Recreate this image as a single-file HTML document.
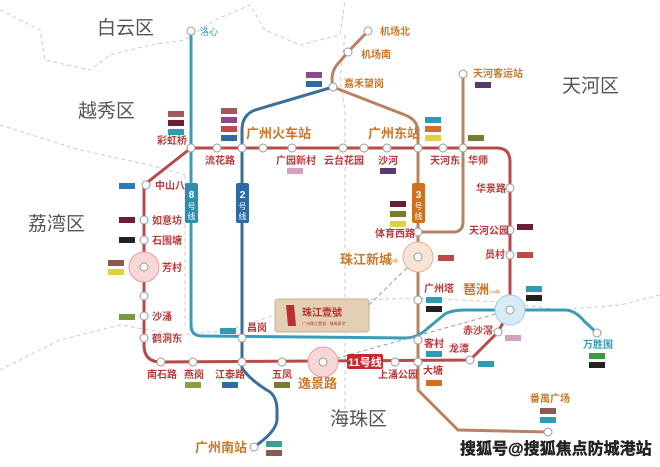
<!DOCTYPE html>
<html><head><meta charset="utf-8"><style>
html,body{margin:0;padding:0;background:#fff;}
svg{display:block;}
text{font-family:"Liberation Sans","Noto Sans CJK SC",sans-serif;}
.r{fill:#b83a3c;font-size:10px;font-weight:bold;}
.o{fill:#c8782a;font-size:10px;font-weight:bold;}
.O{fill:#c8782a;font-size:13px;font-weight:bold;}
.d{fill:#555;font-size:19px;}
</style></head><body>
<svg width="660" height="467" viewBox="0 0 660 467" xmlns="http://www.w3.org/2000/svg">
<g fill="none" stroke="#ccc" stroke-width="1" stroke-dasharray="4,3">
<path d="M0,10 L40,30 L45,60 L90,70 L110,55 L150,45 L185,40 L215,20 L250,5 L265,30 L300,45 L340,35 L345,0"/>
<path d="M345,35 L340,80 L345,110 L345,420"/>
<path d="M0,125 L80,150 L150,165 L185,175"/>
<path d="M0,370 L60,340 L120,325 L180,335 L230,330 L290,310 L360,300 L420,298 L500,302 L560,310 L620,305 L660,295"/>
<path d="M185,175 L185,330"/>
</g>
<text class="d" x="97" y="34">白云区</text>
<text class="d" x="78" y="117">越秀区</text>
<text class="d" x="28" y="230">荔湾区</text>
<text class="d" x="562" y="92">天河区</text>
<text class="d" x="330" y="425">海珠区</text>
<g fill="none" stroke="#b98260" stroke-width="3">
<path d="M368,31 L348,52 L336,66 Q330,75 333,87 L405,115 Q418,120 418,132 L418,390 L458,430 L548,432"/>
<path d="M463,74 L463,222 Q463,232 453,232 L418,232"/>
</g>
<g fill="none" stroke="#3a6f9a" stroke-width="3">
<path d="M333,87 L255,110 Q242,115 242,130 L242,368 Q250,380 270,392 Q277,398 277,410 L277,420 Q276,432 254,447"/>
</g>
<g fill="none" stroke="#3a9db8" stroke-width="3">
<path d="M191,31 L191,325 Q191,336 202,336 L405,338 Q418,338 428,328 L445,314 Q452,310 465,310 L565,310 Q575,310 585,322 L597,333"/>
</g>
<g fill="none" stroke="#b84a4a" stroke-width="3">
<path d="M191,148 L497,148 Q510,148 510,162 L510,310 L498,332 L470,360 L161,362 Q144,362 144,345 L144,185 L191,148"/>
</g>
<g fill="none" stroke="#999" stroke-width="1" stroke-dasharray="4,3">
<path d="M369,305 L418,257"/><path d="M323,362 L510,310"/>
</g>
<g stroke-width="1">
<circle cx="144" cy="267" r="15" fill="#f6d6d6" stroke="#e4a0a0"/>
<circle cx="323" cy="362" r="15" fill="#f6d6d6" stroke="#e4a0a0"/>
<circle cx="418" cy="257" r="15" fill="#f8e4d6" stroke="#e8b090"/>
<circle cx="510" cy="310" r="15" fill="#d8ecf6" stroke="#a0cce4"/>
</g>
<g fill="#fff" stroke="#999" stroke-width="1">
<circle cx="191" cy="31" r="4"/><circle cx="368" cy="31" r="4"/><circle cx="348" cy="52" r="4"/><circle cx="333" cy="87" r="4"/><circle cx="463" cy="74" r="4"/>
<circle cx="191" cy="148" r="4"/><circle cx="217" cy="148" r="4"/><circle cx="242" cy="148" r="4"/><circle cx="263" cy="148" r="4"/><circle cx="292" cy="148" r="4"/><circle cx="343" cy="148" r="4"/><circle cx="364" cy="148" r="4"/><circle cx="387" cy="148" r="4"/><circle cx="418" cy="148" r="4"/><circle cx="443" cy="148" r="4"/><circle cx="463" cy="148" r="4"/>
<circle cx="510" cy="188" r="4"/><circle cx="510" cy="230" r="4"/><circle cx="510" cy="255" r="4"/><circle cx="510" cy="310" r="4"/><circle cx="498" cy="332" r="4"/><circle cx="470" cy="360" r="4"/>
<circle cx="418" cy="232" r="4"/><circle cx="418" cy="257" r="4"/><circle cx="418" cy="300" r="4"/><circle cx="418" cy="340" r="4"/><circle cx="418" cy="362" r="4"/><circle cx="548" cy="432" r="4"/><circle cx="597" cy="333" r="4"/>
<circle cx="395" cy="362" r="4"/><circle cx="323" cy="362" r="4"/><circle cx="282" cy="362" r="4"/><circle cx="242" cy="362" r="4"/><circle cx="193" cy="362" r="4"/><circle cx="161" cy="362" r="4"/><circle cx="242" cy="338" r="4"/><circle cx="254" cy="447" r="4"/>
<circle cx="146" cy="185" r="4"/><circle cx="144" cy="220" r="4"/><circle cx="144" cy="240" r="4"/><circle cx="144" cy="267" r="4"/><circle cx="144" cy="296" r="4"/><circle cx="144" cy="316" r="4"/><circle cx="144" cy="338" r="4"/>
</g>
<rect x="185" y="183" width="13" height="40" rx="2" fill="#2c8fb0"/><text x="191.5" y="198" fill="#fff" font-size="10" text-anchor="middle" font-weight="bold">8</text><text x="191.5" y="209" fill="#fff" font-size="8" text-anchor="middle">号</text><text x="191.5" y="219" fill="#fff" font-size="8" text-anchor="middle">线</text>
<rect x="236" y="183" width="13" height="40" rx="2" fill="#2e6aa6"/><text x="242.5" y="198" fill="#fff" font-size="10" text-anchor="middle" font-weight="bold">2</text><text x="242.5" y="209" fill="#fff" font-size="8" text-anchor="middle">号</text><text x="242.5" y="219" fill="#fff" font-size="8" text-anchor="middle">线</text>
<rect x="412" y="183" width="13" height="40" rx="2" fill="#d07020"/><text x="418.5" y="198" fill="#fff" font-size="10" text-anchor="middle" font-weight="bold">3</text><text x="418.5" y="209" fill="#fff" font-size="8" text-anchor="middle">号</text><text x="418.5" y="219" fill="#fff" font-size="8" text-anchor="middle">线</text>
<rect x="347" y="354" width="36" height="15" rx="2" fill="#c8282c"/><text x="365" y="366" fill="#fff" font-size="11" text-anchor="middle" font-weight="bold">11号线</text>
<rect x="275" y="299" width="94" height="33" rx="3" fill="#e2cfb4" stroke="#c8b090"/>
<path d="M286,305 L294,305 L296,326 L288,326 Z" fill="#b83030"/>
<text x="302" y="316" fill="#b83030" font-size="10" font-weight="bold">珠江壹號</text>
<text x="302" y="325" fill="#b84040" font-size="4">广州珠江壹號 · 臻稀豪宅</text>
<text x="200" y="35" fill="#2c9bb3" font-size="9">洛心</text>
<text class="o" x="380" y="35" font-size="9">机场北</text>
<text class="o" x="361" y="58" font-size="9">机场南</text>
<text class="o" x="344" y="87" font-size="9">嘉禾望岗</text>
<text class="o" x="473" y="77" font-size="9">天河客运站</text>
<text class="O" x="246" y="138">广州火车站</text>
<text class="O" x="368" y="138">广州东站</text>
<text class="r" x="157" y="144">彩虹桥</text>
<text class="r" x="205" y="164">流花路</text>
<text class="r" x="276" y="164">广园新村</text>
<text class="r" x="324" y="164">云台花园</text>
<text class="r" x="378" y="164">沙河</text>
<text class="r" x="430" y="164">天河东</text>
<text class="r" x="468" y="164">华师</text>
<text class="r" x="476" y="192">华景路</text>
<text class="r" x="469" y="234">天河公园</text>
<text class="r" x="485" y="258">员村</text>
<text class="r" x="155" y="189">中山八</text>
<text class="r" x="152" y="224">如意坊</text>
<text class="r" x="152" y="244">石围塘</text>
<text class="r" x="162" y="271">芳村</text>
<text class="r" x="152" y="320">沙涌</text>
<text class="r" x="152" y="342">鹤洞东</text>
<text class="r" x="147" y="378">南石路</text>
<text class="r" x="184" y="378">燕岗</text>
<text class="r" x="215" y="378">江泰路</text>
<text class="r" x="272" y="378">五凤</text>
<text class="r" x="247" y="331">昌岗</text>
<text class="O" x="298" y="388">逸景路</text>
<text class="r" x="378" y="378">上涌公园</text>
<text class="r" x="423" y="374">大塘</text>
<text class="r" x="449" y="352">龙潭</text>
<text class="r" x="463" y="334">赤沙滘</text>
<text class="r" x="424" y="347">客村</text>
<text class="r" x="424" y="292">广州塔</text>
<text class="r" x="375" y="237">体育西路</text>
<text class="O" x="340" y="264">珠江新城</text><text x="387" y="262" fill="#c8782a" font-size="4">(5A级)</text>
<text class="O" x="463" y="294">琶洲</text><text x="489" y="293" fill="#c8782a" font-size="4">(5A级)</text>
<text x="583" y="348" fill="#2c9bb3" font-size="10" font-weight="bold">万胜围</text>
<text class="o" x="530" y="402" font-size="9">番禺广场</text>
<text class="O" x="195" y="452">广州南站</text>
<g>
<rect x="168" y="111" width="16" height="6" fill="#a0585e"/><rect x="168" y="120" width="16" height="6" fill="#6a2030"/><rect x="168" y="129" width="16" height="6" fill="#2c9bb3"/>
<rect x="221" y="108" width="16" height="6" fill="#a0585e"/><rect x="221" y="117" width="16" height="6" fill="#8a4a90"/><rect x="221" y="126" width="16" height="6" fill="#c04848"/><rect x="221" y="135" width="16" height="6" fill="#2e6aa6"/>
<rect x="306" y="72" width="16" height="6" fill="#8a4a90"/><rect x="306" y="81" width="16" height="6" fill="#2e6aa6"/>
<rect x="287" y="168" width="16" height="6" fill="#d8a0c0"/>
<rect x="380" y="168" width="16" height="6" fill="#5a3a6a"/>
<rect x="425" y="117" width="16" height="6" fill="#2c9bb3"/><rect x="425" y="126" width="16" height="6" fill="#d07020"/><rect x="425" y="135" width="16" height="6" fill="#e0d040"/>
<rect x="475" y="82" width="16" height="6" fill="#5a3a6a"/><rect x="468" y="135" width="16" height="6" fill="#7a7a30"/>
<rect x="390" y="201" width="16" height="6" fill="#6a2030"/><rect x="390" y="211" width="16" height="6" fill="#7a7a30"/><rect x="390" y="221" width="16" height="6" fill="#e0d040"/>
<rect x="517" y="224" width="16" height="6" fill="#6a2030"/><rect x="517" y="252" width="16" height="6" fill="#c04848"/>
<rect x="438" y="255" width="16" height="6" fill="#c04848"/>
<rect x="526" y="286" width="16" height="6" fill="#2c9bb3"/><rect x="526" y="295" width="16" height="6" fill="#222"/>
<rect x="426" y="297" width="16" height="6" fill="#2c9bb3"/><rect x="426" y="306" width="16" height="6" fill="#222"/>
<rect x="426" y="351" width="16" height="6" fill="#2c9bb3"/><rect x="426" y="380" width="16" height="6" fill="#d07020"/>
<rect x="478" y="361" width="16" height="6" fill="#2c9bb3"/><rect x="505" y="335" width="16" height="6" fill="#d8a0c0"/>
<rect x="589" y="353" width="16" height="6" fill="#3a9a40"/><rect x="589" y="362" width="16" height="6" fill="#222"/>
<rect x="540" y="408" width="16" height="6" fill="#8a5a50"/><rect x="540" y="417" width="16" height="6" fill="#2c9bb3"/>
<rect x="119" y="183" width="16" height="6" fill="#2e7ab0"/><rect x="119" y="217" width="16" height="6" fill="#6a2030"/><rect x="119" y="237" width="16" height="6" fill="#222"/>
<rect x="108" y="260" width="16" height="6" fill="#8a5a50"/><rect x="108" y="269" width="16" height="6" fill="#e0d040"/>
<rect x="119" y="314" width="16" height="6" fill="#7a9a40"/>
<rect x="185" y="382" width="16" height="6" fill="#8aa040"/><rect x="222" y="382" width="16" height="6" fill="#2e6aa6"/><rect x="274" y="382" width="16" height="6" fill="#7a7a30"/>
<rect x="220" y="328" width="16" height="6" fill="#2c9bb3"/>
<rect x="266" y="441" width="16" height="6" fill="#3aa090"/><rect x="266" y="450" width="16" height="6" fill="#8a5a50"/>
</g>
<text x="460" y="454" font-size="16" font-weight="bold" fill="#222" stroke="#222" stroke-width="0.4">搜狐号@搜狐焦点防城港站</text>
</svg>
</body></html>
